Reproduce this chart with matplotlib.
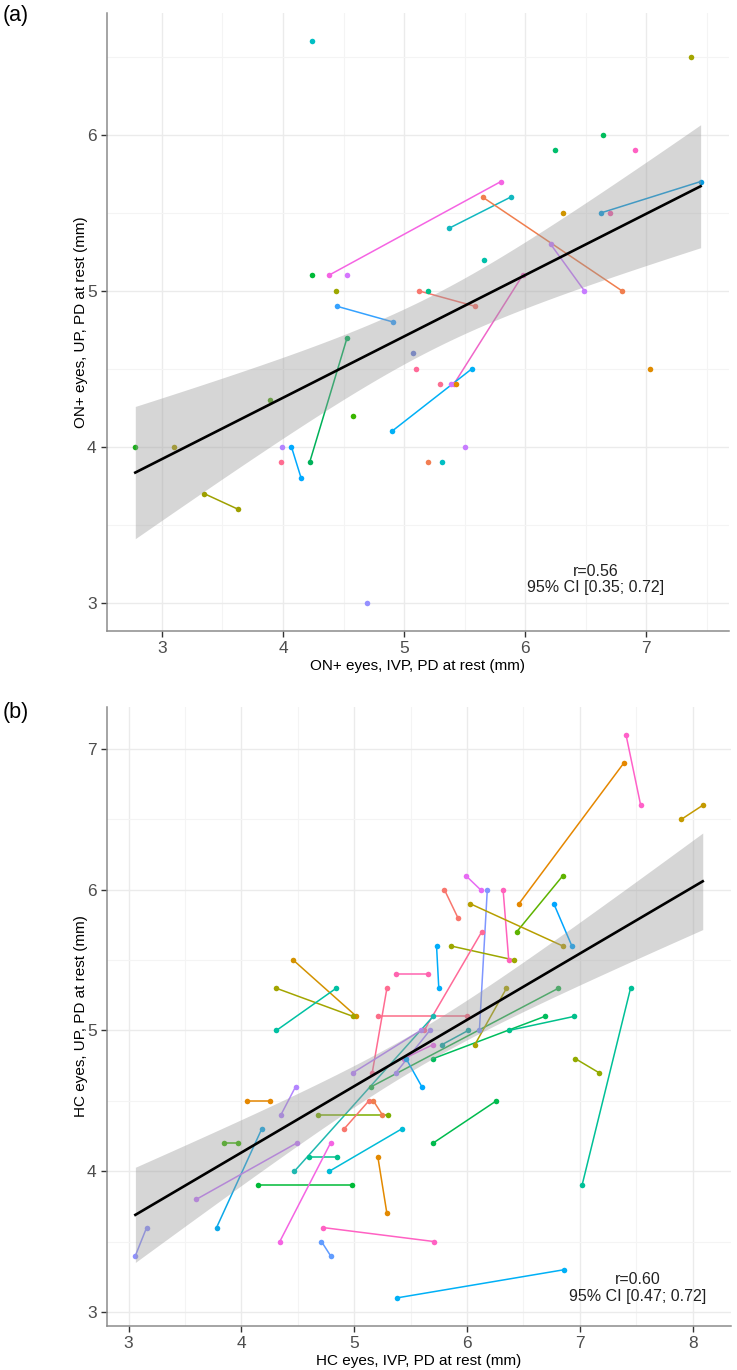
import numpy as np
import matplotlib
matplotlib.use('Agg')
import matplotlib.pyplot as plt

plt.rcParams['font.family'] = ['Liberation Sans', 'DejaVu Sans']

# ---- panel (a): ON+ eyes, IVP vs UP pupil diameter at rest ----
# same id = two eyes of one subject, joined by a line
a_id = [1, 2, 3, 3, 4, 5, 6, 6, 7, 8, 8, 9, 10, 11, 12, 13, 13, 14, 14, 15,
        16, 16, 17, 18, 18, 19, 20, 20, 21, 22, 23, 24, 24, 25, 26, 26, 27, 28,
        29, 29, 30, 31, 32, 33, 33, 34, 35, 36, 37, 38, 39, 40]
a_ivp = [4.24, 4.24, 4.38, 5.80, 4.53, 4.44, 5.12, 5.59, 5.20, 4.45, 4.91, 7.37,
         6.64, 6.25, 6.91, 5.37, 5.88, 5.65, 6.80, 6.31, 6.63, 7.45, 6.70, 6.21,
         6.49, 5.66, 5.98, 5.41, 2.78, 3.10, 3.89, 3.35, 3.63, 4.58, 4.22, 4.53,
         3.99, 3.98, 4.07, 4.15, 4.69, 5.07, 5.10, 4.90, 5.56, 5.30, 5.39, 5.43,
         5.50, 5.20, 5.31, 7.03]
a_up = [6.6, 5.1, 5.1, 5.7, 5.1, 5.0, 5.0, 4.9, 5.0, 4.9, 4.8, 6.5,
        6.0, 5.9, 5.9, 5.4, 5.6, 5.6, 5.0, 5.5, 5.5, 5.7, 5.5, 5.3,
        5.0, 5.2, 5.1, 4.4, 4.0, 4.0, 4.3, 3.7, 3.6, 4.2, 3.9, 4.7,
        4.0, 3.9, 4.0, 3.8, 3.0, 4.6, 4.5, 4.1, 4.5, 4.4, 4.4, 4.4,
        4.0, 3.9, 3.9, 4.5]
a_fit = [2.743, 0.3929]   # intercept, slope of the drawn fit
a_label = 'r=0.56\n95% CI [0.35; 0.72]'

# ---- panel (b): HC eyes ----
b_id = [i for i in range(1, 50) for _ in range(2)]
b_ivp = [4.46, 5.02, 4.31, 4.99, 4.31, 4.84, 5.37, 5.65, 5.29, 5.16,
         5.21, 6.00, 7.41, 7.54, 7.39, 6.46, 7.90, 8.09, 5.99, 6.12,
         6.18, 6.11, 5.80, 5.92, 6.32, 6.37, 6.85, 6.44, 6.03, 6.85,
         6.77, 6.93, 5.86, 6.42, 5.73, 5.75, 6.13, 5.62, 4.47, 5.70,
         5.70, 6.69, 6.37, 6.95, 5.15, 6.81, 7.02, 7.45, 5.78, 6.01,
         6.07, 6.35, 5.37, 5.67, 4.99, 5.59, 5.44, 5.70, 5.46, 5.60,
         3.06, 3.16, 4.05, 4.25, 4.35, 4.48, 3.85, 3.97, 4.18, 3.78,
         3.60, 4.49, 4.60, 4.85, 4.78, 5.42, 4.15, 4.98, 4.34, 4.79,
         5.21, 5.29, 4.72, 5.71, 4.71, 4.79, 5.38, 6.86, 4.68, 5.30,
         4.91, 5.13, 5.17, 5.25, 6.96, 7.17, 5.70, 6.26]
b_up = [5.5, 5.1, 5.3, 5.1, 5.0, 5.3, 5.4, 5.4, 5.3, 4.7,
        5.1, 5.1, 7.1, 6.6, 6.9, 5.9, 6.5, 6.6, 6.1, 6.0,
        6.0, 5.0, 6.0, 5.8, 6.0, 5.5, 6.1, 5.7, 5.9, 5.6,
        5.9, 5.6, 5.6, 5.5, 5.6, 5.3, 5.7, 5.0, 4.0, 5.1,
        4.8, 5.1, 5.0, 5.1, 4.6, 5.3, 3.9, 5.3, 4.9, 5.0,
        4.9, 5.3, 4.7, 5.0, 4.7, 5.0, 4.8, 4.9, 4.8, 4.6,
        3.4, 3.6, 4.5, 4.5, 4.4, 4.6, 4.2, 4.2, 4.3, 3.6,
        3.8, 4.2, 4.1, 4.1, 4.0, 4.3, 3.9, 3.9, 3.5, 4.2,
        4.1, 3.7, 3.6, 3.5, 3.5, 3.4, 3.1, 3.3, 4.4, 4.4,
        4.3, 4.5, 4.5, 4.4, 4.8, 4.7, 4.2, 4.5]
b_fit = [2.248, 0.4712]
b_label = 'r=0.60\n95% CI [0.47; 0.72]'

# colours per subject (ggplot hue-ish)
a_colors = ['#00BFC4', '#00BA38', '#F564E3', '#D575FE', '#9DA700', '#F8766D',
            '#00C08B', '#35A2FF', '#A3A500', '#00BD5C', '#00BE6C', '#FF61C3',
            '#12B8C0', '#F07E4E', '#CF9400', '#0A9BE0', '#EE5FA8', '#C77CFF',
            '#00C1AA', '#F066C9', '#1AAD1A', '#A89C00', '#53A318', '#9EA000',
            '#39B600', '#00B159', '#B385FF', '#FF6C91', '#00A9FF', '#9590FF',
            '#6A7FDB', '#FF6A98', '#00B0F6', '#FB6F92', '#D575FE', '#E38900',
            '#C77CFF', '#F27D52', '#00BFC4', '#E08B00']
b_colors = ['#D39200', '#A3A500', '#00C1A3', '#FF64B0', '#FF6C91', '#FC6D88',
            '#FF61C9', '#E58700', '#C49A00', '#E76BF3', '#7F96FF', '#F8766D',
            '#FF62BC', '#5EB300', '#B79F00', '#00A5FF', '#9CA700', '#00ADFA',
            '#FF6A98', '#1FB8B0', '#00BD5C', '#00C08B', '#24B24F', '#00C097',
            '#12A8A8', '#ABA300', '#A58AFF', '#B983FF', '#EC69EF', '#00A9FF',
            '#8F91FF', '#E58700', '#B385FF', '#39B600', '#0CA8E8', '#C77CFF',
            '#00C08B', '#00BCD8', '#00BA38', '#F564E3', '#E38900', '#FF61C3',
            '#619CFF', '#00B0F6', '#7CAE00', '#F8766D', '#F07E4E', '#93AA00',
            '#00BB4E']


def panel(ax, ids, x, y, colors, fit, label, xlabel, ylabel, txt_xy):
    ids = np.array(ids)
    x = np.array(x)
    y = np.array(y)
    for k, s in enumerate(np.unique(ids)):
        m = ids == s
        ax.plot(x[m], y[m], color=colors[k], lw=1.1, zorder=2)
        ax.plot(x[m], y[m], 'o', color=colors[k], ms=4, mew=0, zorder=3)
    # fitted line with 95% CI band
    n = len(x)
    b0, b1 = fit
    resid = y - (b0 + b1 * x)
    s = np.sqrt(np.sum(resid ** 2) / (n - 2))
    sxx = np.sum((x - x.mean()) ** 2)
    xs = np.linspace(x.min(), x.max(), 80)
    yh = b0 + b1 * xs
    z = 1.96
    t = z + (z ** 3 + z) / (4 * (n - 2))
    se = s * np.sqrt(1 / n + (xs - x.mean()) ** 2 / sxx)
    ax.fill_between(xs, yh - t * se, yh + t * se, color='#999999', alpha=0.4, lw=0, zorder=4)
    ax.plot(xs, yh, color='black', lw=1.9, zorder=5)

    ax.text(txt_xy[0], txt_xy[1], label, ha='center', va='center', fontsize=11.5,
            color='#222222', linespacing=1.1, zorder=6)

    xr = x.max() - x.min()
    yr = y.max() - y.min()
    xlo, xhi = x.min() - 0.05 * xr, x.max() + 0.05 * xr
    ylo, yhi = y.min() - 0.05 * yr, y.max() + 0.05 * yr
    ax.set_xticks(np.arange(np.ceil(xlo), np.floor(xhi) + 0.01, 1))
    ax.set_yticks(np.arange(np.ceil(ylo), np.floor(yhi) + 0.01, 1))
    ax.set_xticks(np.arange(np.ceil(xlo * 2) / 2, xhi, 0.5), minor=True)
    ax.set_yticks(np.arange(np.ceil(ylo * 2) / 2, yhi, 0.5), minor=True)
    ax.set_xlim(xlo, xhi)
    ax.set_ylim(ylo, yhi)
    ax.grid(which='major', color='#EBEBEB', lw=1.0)
    ax.grid(which='minor', color='#F4F4F4', lw=0.8)
    ax.set_axisbelow(True)
    for sp in ['top', 'right']:
        ax.spines[sp].set_visible(False)
    for sp in ['left', 'bottom']:
        ax.spines[sp].set_color('#8C8C8C')
        ax.spines[sp].set_linewidth(1.1)
    ax.tick_params(which='major', length=4, width=1, color='#333333',
                   labelsize=12.5, labelcolor='#4D4D4D')
    ax.tick_params(which='minor', length=0)
    ax.set_xlabel(xlabel, fontsize=11, labelpad=2)
    ax.set_ylabel(ylabel, fontsize=11, labelpad=-1)


fig = plt.figure(figsize=(7.37, 13.7), dpi=100)
ax1 = fig.add_axes([0.1452, 0.5394, 0.8438, 0.4511])
ax2 = fig.add_axes([0.1452, 0.0321, 0.8468, 0.4520])

panel(ax1, a_id, a_ivp, a_up, a_colors, a_fit, a_label,
      'ON+ eyes, IVP, PD at rest (mm)', 'ON+ eyes, UP, PD at rest (mm)', (6.58, 3.15))
panel(ax2, b_id, b_ivp, b_up, b_colors, b_fit, b_label,
      'HC eyes, IVP, PD at rest (mm)', 'HC eyes, UP, PD at rest (mm)', (7.51, 3.17))

fig.text(0.004, 0.989, '(a)', fontsize=15.5, va='center', ha='left')
fig.text(0.004, 0.480, '(b)', fontsize=15.5, va='center', ha='left')

fig.savefig('out.png', dpi=100)
